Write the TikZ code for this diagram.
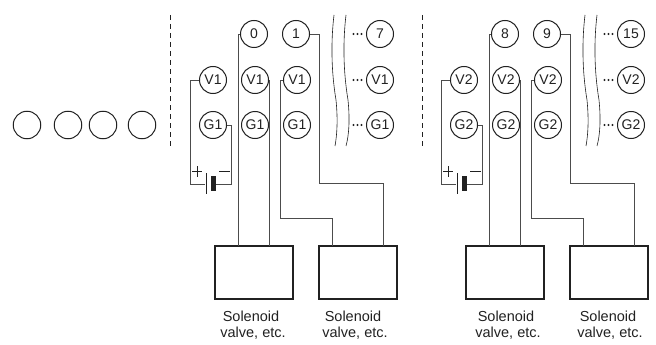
\documentclass[tikz,border=0pt]{standalone}
\usepackage{fontspec}
\setmainfont{Liberation Sans}
\definecolor{ink}{gray}{0.13}
\definecolor{wire}{gray}{0.3}
\tikzset{
  terminal/.style={circle,draw=ink,line width=1pt,minimum size=27pt,inner sep=0pt,font=\fontsize{14}{16}\selectfont,text=ink},
  wirel/.style={draw=wire,line width=0.9pt},
  valvebox/.style={rectangle,draw=ink,line width=1.4pt,minimum width=78pt,minimum height=53pt,inner sep=0pt},
  captiontext/.style={font=\fontsize{14.5}{16.5}\selectfont,align=center,text=ink,inner sep=0pt},
  batplate/.style={rectangle,fill=ink,inner sep=0pt},
  divider/.style={draw=ink,line width=0.8pt,dash pattern=on 5pt off 4pt},
  breakline/.style={draw=ink,line width=0.6pt},
  polarity/.style={draw=ink,line width=0.5pt}
}
\newcommand{\unitgroup}[6]{%
\begin{scope}[xshift=#1pt,name prefix=#2-]
  \node[terminal] (a) at (254,34) {#3};
  \node[terminal] (b) at (296,34) {#4};
  \node[terminal] (c) at (380,34) {#5};
  \foreach \col/\xx in {l/213,m/255,r/297,e/380}{
    \node[terminal] (v\col) at (\xx,80) {V#2};
    \node[terminal] (g\col) at (\xx,125) {G#2};
  }
  \node[valvebox] (box1) at (254,272.5) {};
  \node[valvebox] (box2) at (358,272.5) {};
  \node[captiontext,xshift=#6pt] (txt1) at (253,325) {Solenoid\hspace*{4pt}\\valve, etc.};
  \node[captiontext,xshift=#6pt] (txt2) at (355,325) {Solenoid\hspace*{4pt}\\valve, etc.};
  \coordinate (t1a) at (238,246);
  \coordinate (t1b) at (269,246);
  \coordinate (t2a) at (332,246);
  \coordinate (t2b) at (383,246);
  \coordinate (j1) at (280,218);
  \coordinate (j2) at (319,183);
  \draw[wirel] (a.west) -| (t1a);
  \draw[wirel] (vm.east) -| (t1b);
  \draw[wirel] (vr.west) -| (j1) -| (t2a);
  \draw[wirel] (b.east) -| (j2) -| (t2b);
  \node[batplate,minimum width=0.9pt,minimum height=21pt] (p1) at (206,183.5) {};
  \node[batplate,minimum width=5pt,minimum height=15pt] (p2) at (213.5,183.5) {};
  \coordinate (cl) at (190,184);
  \coordinate (cr) at (231,184);
  \draw[wirel] (vl.west) -| (cl) -- (cl -| p1.west);
  \draw[wirel] (gl.east) -| (cr) -- (cr -| p2.east);
  \coordinate (plusl) at (192,171);
  \coordinate (plusr) at (202,171);
  \coordinate (plust) at (197,166);
  \coordinate (plusb) at (197,177);
  \coordinate (minl) at (219,171);
  \coordinate (minr) at (230,171);
  \draw[polarity] (plusl) -- (plusr) (plust) -- (plusb) (minl) -- (minr);
  \draw[breakline] (334,15) .. controls (331,40) and (331,70) .. (336,100) .. controls (338,120) and (337,135) .. (335,146);
  \draw[breakline] (346,15) .. controls (343,40) and (343,70) .. (348,100) .. controls (350,120) and (349,135) .. (346,146);
  \foreach \yy in {34,80,125}{
    \foreach \dx in {353.5,357.5,361.5}{
      \fill[ink] (\dx,\yy) circle (1.1pt);
    }
  }
\end{scope}}
\begin{document}
\begin{tikzpicture}[x=1pt,y=-1pt]
  \useasboundingbox (0,0) rectangle (656,345);
  \draw[divider] (170,15) -- (170,146);
  \draw[divider] (422,15) -- (422,146);
  \foreach \xx/\nn in {27/o1,68/o2,103/o3,142/o4}{
    \node[terminal,minimum size=27.5pt] (\nn) at (\xx,125) {};
  }
  \unitgroup{0}{1}{0}{1}{7}{0}
  \unitgroup{251}{2}{8}{9}{15}{4}
\end{tikzpicture}
\end{document}
